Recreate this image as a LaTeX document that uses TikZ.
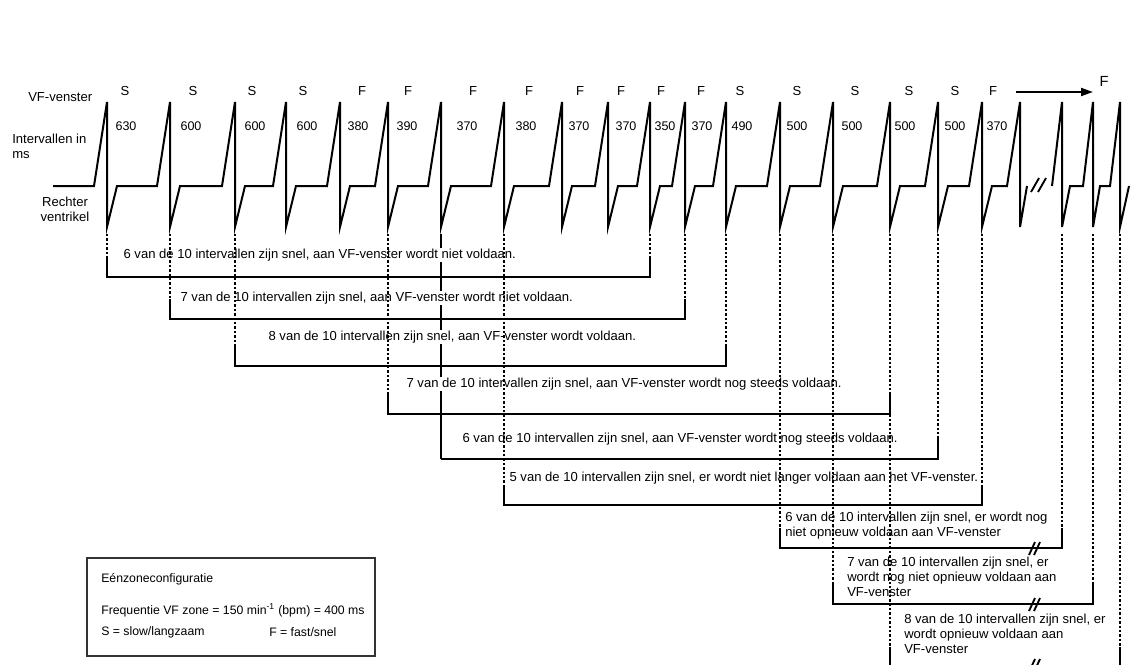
\documentclass[tikz,border=0pt]{standalone}
\usepackage{fontspec}
\setmainfont{Liberation Sans}
\usetikzlibrary{arrows.meta}

\begin{document}
\begin{tikzpicture}[x=0.75pt, y=-0.75pt,
    every node/.style={font=\fontsize{9.8}{11.3}\selectfont, inner sep=0pt},
    trace/.style={line width=1.5pt},
    brk/.style={line width=1.4pt},
    dashline/.style={line width=0.8pt, dash pattern=on 1.8pt off 1.5pt},
    bracket/.style={line width=0.9pt},
    msg/.style={anchor=west, fill=white, inner sep=1pt},
    msgblock/.style={anchor=north west, align=left},
    legend/.style={anchor=west, font=\fontsize{9.2}{11}\selectfont}]

    \useasboundingbox (0,0) rectangle (1130,664);
    \clip (0,0) rectangle (1130,664);

    % --- Row Labels ---
    \node[anchor=west] (lblvf) at (28,97) {VF-venster};
    \node[anchor=north west, align=left] (lblint) at (12,134) {Intervallen in\\ms};
    \node[align=center] (lblrv) at (65,209) {Rechter\\ventrikel};

    % --- VF window (S/F) and intervals in ms ---
    \foreach \xs/\zone/\xn/\ms in {125/S/126/630, 193/S/191/600, 252/S/255/600, 303/S/307/600,
        362/F/358/380, 408/F/407/390, 473/F/467/370, 529/F/526/380, 580/F/579/370,
        621/F/626/370, 661/F/665/350, 701/F/702/370, 740/S/742/490, 797/S/797/500,
        855/S/852/500, 909/S/905/500, 955/S/955/500, 993/F/997/370}{
        \node (zone\xs) at (\xs,91) {\zone};
        \node[font=\fontsize{9.4}{11}\selectfont] (int\xn) at (\xn,126) {\ms};
    }

    % --- Right ventricle trace ---
    \draw[trace] (53,186)
        foreach \x in {107,170,235,286,340,388,441,504,562,608,650,685,726,780,833,890,938,982}
            { -- (\x-13,186) -- (\x,102) -- (\x,227) -- (\x+10,186) }
        -- (1007,186) -- (1020,102) -- (1020,227) -- (1027,186);
    \draw[trace] (1052,186) -- (1062,102) -- (1062,227) -- (1070,186) -- (1083,186)
        -- (1093,102) -- (1093,227) -- (1100,186) -- (1110,186)
        -- (1120,102) -- (1120,227) -- (1129,186);

    % break in the trace
    \draw[brk] (1031,192) -- (1039,178) (1038,192) -- (1046,178);

    % --- Arrow to F ---
    \coordinate (arrstart) at (1016,92);
    \coordinate (arrend) at (1093,92);
    \node[font=\fontsize{11}{13}\selectfont] (fnext) at (1104,81) {F};
    \draw[trace, -{Triangle[length=9pt,width=6pt]}] (arrstart) -- (arrend);

    % --- Spike feet ---
    \foreach \x [count=\i] in {107,170,235,286,340,388,441,504,562,608,650,685,726,780,833,890,938,982,1020,1062,1093,1120}
        \coordinate (s\i) at (\x,234);

    % solid left leg of the 5th bracket, broken by the texts
    \draw[bracket] (s7) -- (s7 |- 0,459);

    % --- Texts ---
    \node[msg] (t1) at (122,255) {6 van de 10 intervallen zijn snel, aan VF-venster wordt niet voldaan.};
    \node[msg] (t2) at (179,298) {7 van de 10 intervallen zijn snel, aan VF-venster wordt niet voldaan.};
    \node[msg] (t3) at (267,337) {8 van de 10 intervallen zijn snel, aan VF-venster wordt voldaan.};
    \node[msg] (t4) at (405,384) {7 van de 10 intervallen zijn snel, aan VF-venster wordt nog steeds voldaan.};
    \node[msg] (t5) at (461,439) {6 van de 10 intervallen zijn snel, aan VF-venster wordt nog steeds voldaan.};
    \node[msg] (t6) at (508,478) {5 van de 10 intervallen zijn snel, er wordt niet langer voldaan aan het VF-venster.};
    \node[msgblock] (t7) at (785,512) {6 van de 10 intervallen zijn snel, er wordt nog\\niet opnieuw voldaan aan VF-venster};
    \node[msgblock] (t8) at (847,557) {7 van de 10 intervallen zijn snel, er\\wordt nog niet opnieuw voldaan aan\\VF-venster};
    \node[msgblock] (t9) at (904,614) {8 van de 10 intervallen zijn snel, er\\wordt opnieuw voldaan aan\\VF-venster};

    % --- Brackets over 10 intervals ---
    \foreach \l/\r/\y in {1/11/277, 2/12/319, 3/13/366, 6/16/414, 8/18/505, 14/20/548, 15/21/604, 16/22/667}{
        \draw[dashline] (s\l) -- (s\l |- 0,\y-20);
        \draw[dashline] (s\r) -- (s\r |- 0,\y-20);
        \draw[bracket] (s\l |- 0,\y-20) -- (s\l |- 0,\y) -- (s\r |- 0,\y) -- (s\r |- 0,\y-20);
    }
    \draw[dashline] (s17) -- (s17 |- 0,439);
    \draw[bracket] (s7 |- 0,459) -- (s17 |- 0,459) -- (s17 |- 0,439);

    % breaks in the lower brackets
    \foreach \y in {548,604,665}
        \draw[brk] (1029,\y+7) -- (1035,\y-6) (1034,\y+7) -- (1040,\y-6);

    % --- Legend ---
    \draw[line width=0.9pt, black!80] (87,558) rectangle (375,656);
    \node[legend] (legtitle) at (101,579) {Eénzoneconfiguratie};
    \node[legend] (legfreq) at (101,610) {Frequentie VF zone = 150 min\textsuperscript{-1} (bpm) = 400 ms};
    \node[legend] (legslow) at (101,632) {S = slow/langzaam};
    \node[legend] (legfast) at (269,632) {F = fast/snel};

\end{tikzpicture}
\end{document}
